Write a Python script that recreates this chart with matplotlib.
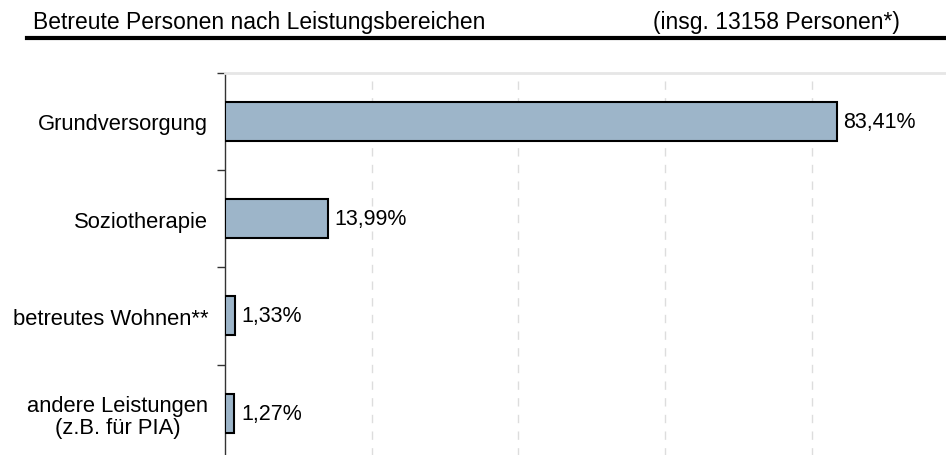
import matplotlib.pyplot as plt
from matplotlib.ticker import FixedLocator

plt.rcParams['font.family'] = ['Liberation Sans', 'DejaVu Sans']

categories = ["Grundversorgung", "Soziotherapie", "betreutes Wohnen**",
              "andere Leistungen\n(z.B. für PIA)"]
values = [83.41, 13.99, 1.33, 1.27]
value_labels = ["83,41%", "13,99%", "1,33%", "1,27%"]
title_left = "Betreute Personen nach Leistungsbereichen"
title_right = "(insg. 13158 Personen*)"

fig = plt.figure(figsize=(9.46, 4.56), dpi=100)
ax = fig.add_axes([225 / 946, 1 - 463 / 456, 720 / 946, (463 - 73.5) / 456])

pos = list(range(len(categories)))
ax.barh(pos, values, height=0.4, color="#9db5c9", edgecolor="black", linewidth=1.5, zorder=3)

for p, v, lab in zip(pos, values, value_labels):
    ax.text(v + 0.9, p, lab, va="center", ha="left", fontsize=15.5, zorder=4)

ax.set_xlim(0, 98.2)
ax.set_ylim(len(categories) - 0.5, -0.5)

ax.set_yticks(pos)
ax.set_yticklabels(categories, fontsize=15.8, multialignment="center", linespacing=1.05)
ax.tick_params(axis="y", which="major", length=0, pad=12)
ax.yaxis.set_minor_locator(FixedLocator([p - 0.5 for p in pos] + [len(pos) - 0.5]))
ax.tick_params(axis="y", which="minor", length=6, width=1, color="#333333")

ax.set_xticks([20, 40, 60, 80])
ax.tick_params(axis="x", length=0, labelbottom=False)
ax.grid(axis="x", color="#dddddd", linestyle=(0, (6, 6)), linewidth=1, zorder=0)

for s in ["right", "bottom"]:
    ax.spines[s].set_visible(False)
ax.spines["top"].set_color("#e6e6e6")
ax.spines["top"].set_linewidth(2)
ax.spines["left"].set_color("#333333")
ax.spines["left"].set_linewidth(1)

fig.text(33 / 946, 1 - 23 / 456, title_left, fontsize=16.5, ha="left", va="center")
fig.text(900 / 946, 1 - 23 / 456, title_right, fontsize=16.5, ha="right", va="center")
fig.add_artist(plt.Line2D([27 / 946, 1.0], [1 - 39 / 456] * 2, color="black", linewidth=3,
                          transform=fig.transFigure))

fig.savefig("out.png", dpi=100)
